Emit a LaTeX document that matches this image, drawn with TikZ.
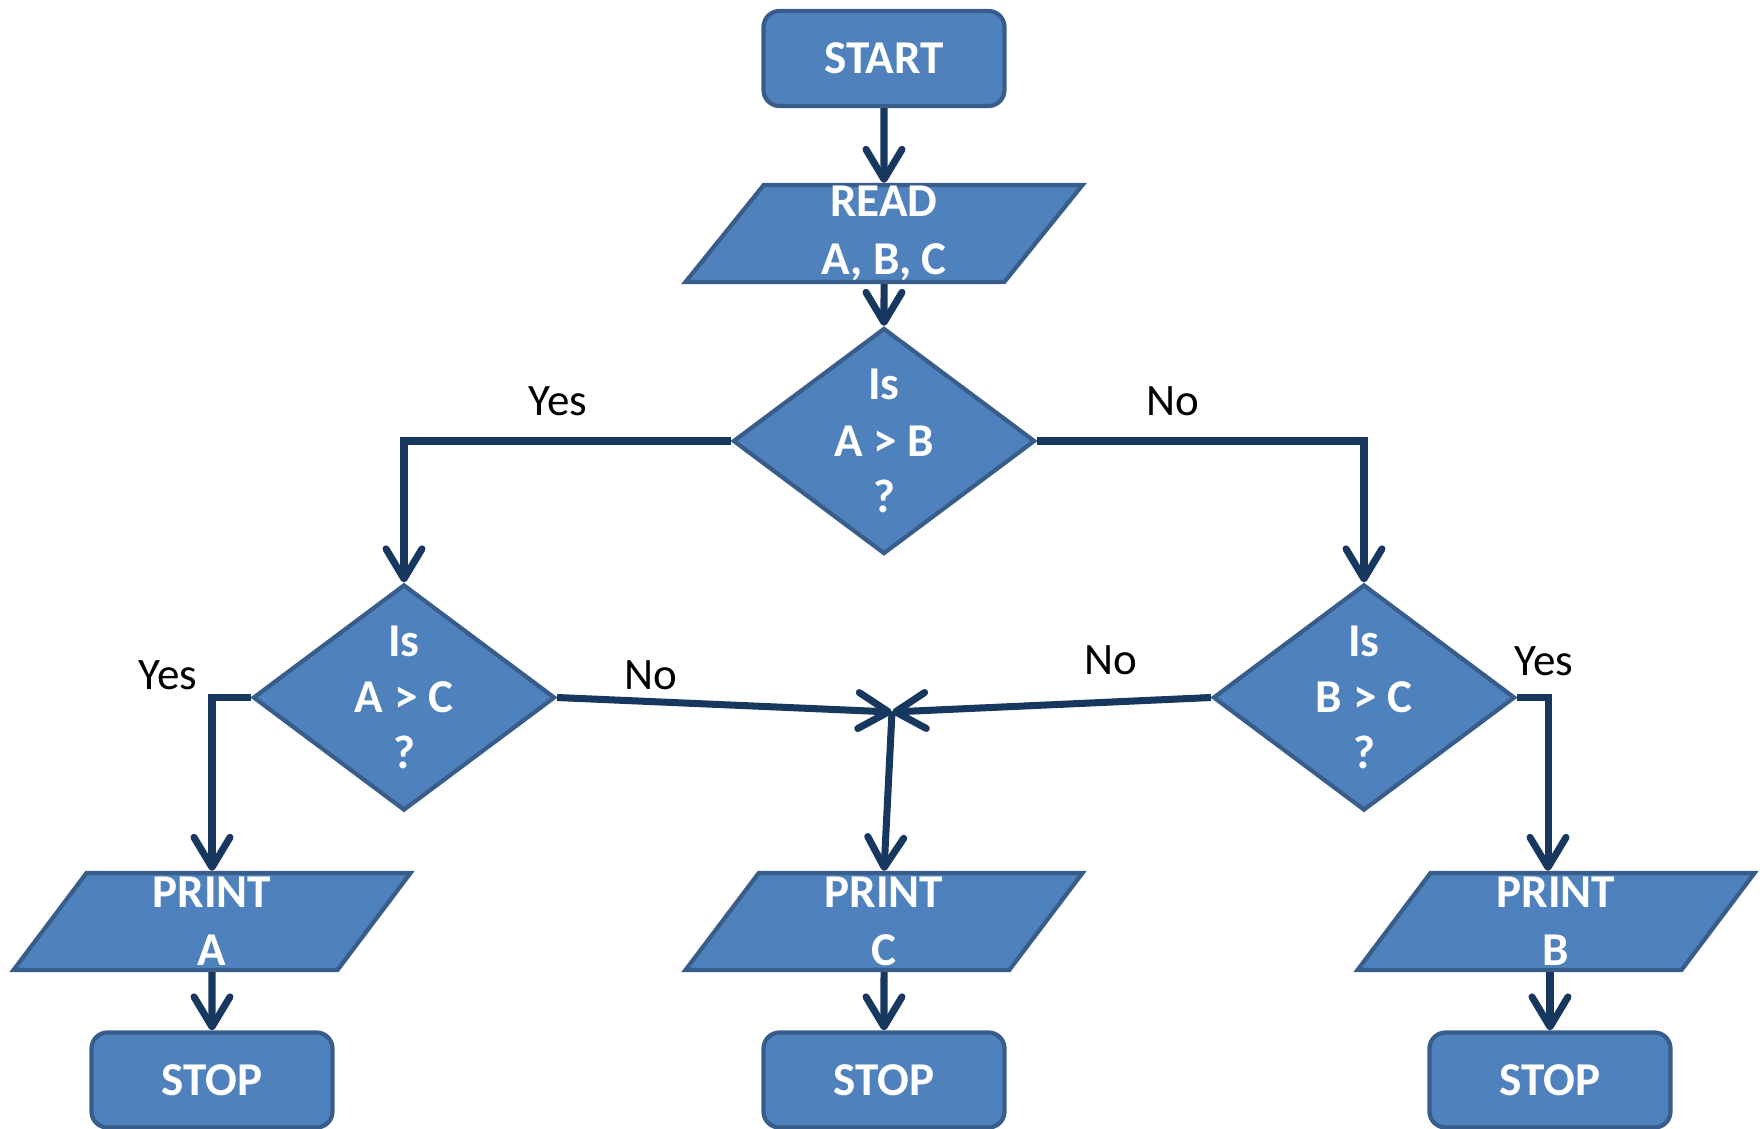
\documentclass[tikz,border=0pt]{standalone}
\usepackage{fontspec}
\setmainfont{Carlito}
\usepackage{tikz}
\usetikzlibrary{shapes.geometric,arrows.meta,positioning,calc}
\definecolor{boxblue}{HTML}{4F81BD}
\definecolor{boxedge}{HTML}{385D8A}
\definecolor{arrowblue}{HTML}{17375E}
\tikzstyle{terminal} = [rectangle, draw=boxedge, fill=boxblue, line width=1.2pt,
	rounded corners=0.16cm, minimum width=2.41cm, minimum height=0.95cm,
	text=white, font=\fontsize{13.4}{15}\selectfont\bfseries]
\tikzstyle{io} = [trapezium, trapezium left angle=50.5, trapezium right angle=129.5,
	trapezium stretches body, draw=boxedge, fill=boxblue, line width=1.2pt,
	minimum width=3.97cm, minimum height=0.97cm, inner sep=0pt, text=white,
	align=center, font=\fontsize{13.4}{16.5}\selectfont\bfseries]
\tikzstyle{decision} = [diamond, aspect=1.34, draw=boxedge, fill=boxblue, line width=1.2pt,
	minimum width=3.02cm, minimum height=2.26cm, inner sep=0pt, text=white,
	align=center, font=\fontsize{13.4}{16}\selectfont\bfseries]
\tikzstyle{line} = [draw=arrowblue, line width=2pt, -{Straight Barb[length=0.3cm,width=0.36cm,round]}]
\tikzstyle{answer} = [font=\fontsize{12.8}{15}\selectfont, text=black]

\begin{document}
\begin{tikzpicture}
	\useasboundingbox (0,0) rectangle (17.63,-11.28);

	% boxes
	\node[terminal] (start) at (8.84,-0.585) {START};
	\node[io] (read) at (8.84,-2.335) {READ\\A, B, C};
	\node[decision] (isab) at (8.84,-4.41) {Is\\A > B\\?};
	\node[decision] (isac) at (4.04,-6.975) {Is\\A > C\\?};
	\node[decision] (isbc) at (13.64,-6.975) {Is\\B > C\\?};
	\coordinate (join) at (8.92,-7.12);
	\node[io] (printa) at (2.12,-9.215) {PRINT\\A};
	\node[io] (printc) at (8.84,-9.215) {PRINT\\C};
	\node[io] (printb) at (15.56,-9.215) {PRINT\\B};
	\node[terminal] (stopa) at (2.12,-10.8) {STOP};
	\node[terminal] (stopc) at (8.84,-10.8) {STOP};
	\node[terminal] (stopb) at (15.50,-10.8) {STOP};

	% connectors
	\draw[line] (start) -- (read);
	\draw[line] (read) -- (isab);
	\draw[line] (isab.west) -| (isac.north);
	\draw[line] (isab.east) -| (isbc.north);
	\draw[line] (isac.west) -| (printa.north);
	\draw[line] (isbc.east) -| ([xshift=-0.08cm]printb.north);
	\draw[line] (isac.east) -- (join);
	\draw[line] (isbc.west) -- (join);
	\draw[line] (join) -- (printc.north);
	\draw[line] (printa) -- (stopa);
	\draw[line] (printc) -- (stopc);
	\draw[line] (printb.south -| stopb.north) -- (stopb.north);

	% answers
	\node[answer] (yesab) at (5.58,-4.01) {Yes};
	\node[answer] (noab) at (11.73,-4.01) {No};
	\node[answer] (yesac) at (1.68,-6.75) {Yes};
	\node[answer] (noac) at (6.51,-6.75) {No};
	\node[answer] (nobc) at (11.11,-6.60) {No};
	\node[answer] (yesbc) at (15.44,-6.61) {Yes};
\end{tikzpicture}
\end{document}
